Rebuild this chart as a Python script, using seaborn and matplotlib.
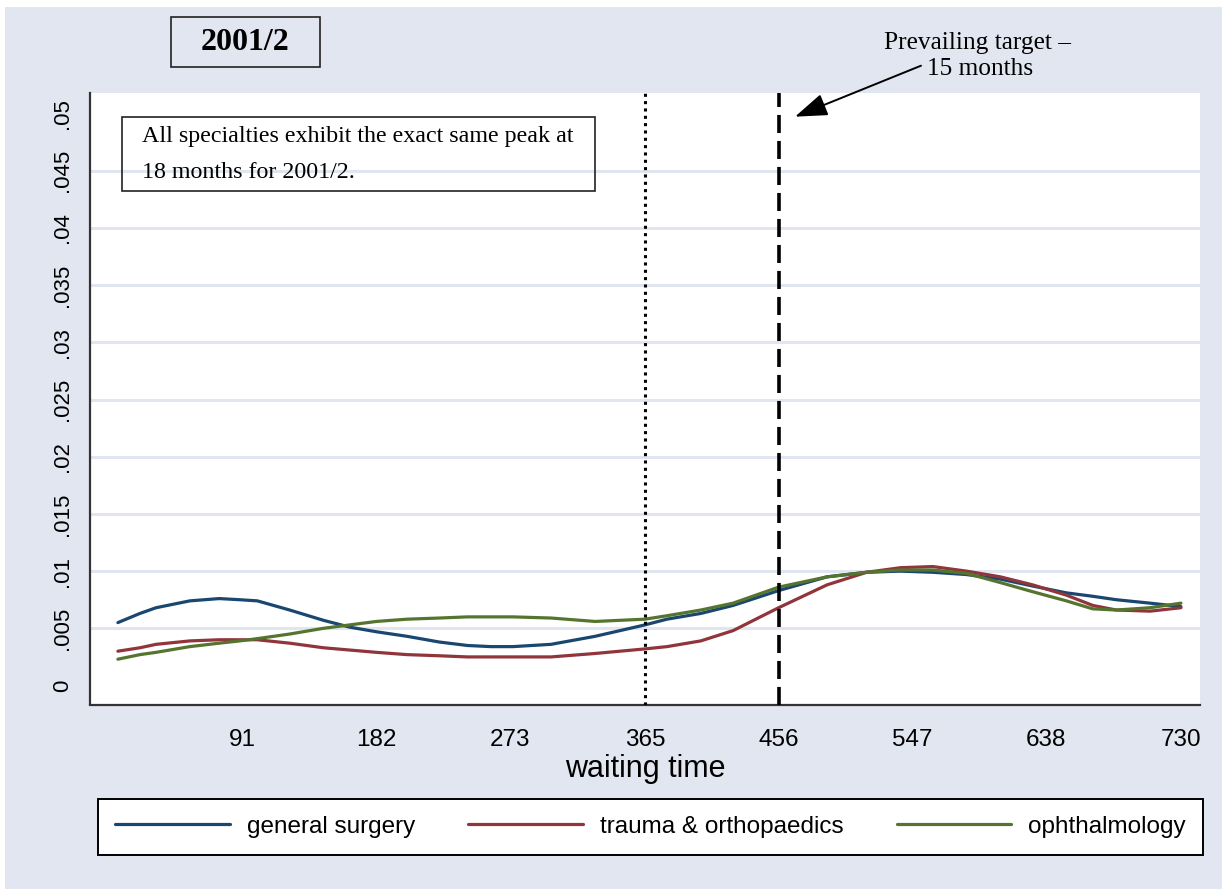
import numpy as np
import pandas as pd
import matplotlib
matplotlib.use("Agg")
import matplotlib.pyplot as plt
import matplotlib.patches as mpatches
import seaborn as sns

# ---------------- data ----------------
days = [6, 21, 32, 55, 75, 89, 101, 123, 146, 164, 182, 203, 225, 244, 260, 275,
        301, 331, 365, 380, 403, 425, 456, 489, 516, 539, 561, 584, 607, 629,
        652, 670, 686, 709, 730]
general_surgery = [.0055, .0063, .0068, .0074, .0076, .0075, .0074, .0066, .0057, .0051,
                   .0047, .0043, .0038, .0035, .0034, .0034, .0036, .0043, .0053, .0058,
                   .0063, .0070, .0083, .0095, .0099, .0100, .0099, .0097, .0093, .0087,
                   .0081, .0078, .0075, .0072, .0069]
trauma_orthopaedics = [.0030, .0033, .0036, .0039, .0040, .0040, .0040, .0037, .0033, .0031,
                       .0029, .0027, .0026, .0025, .0025, .0025, .0025, .0028, .0032, .0034,
                       .0039, .0048, .0068, .0088, .0099, .0103, .0104, .0100, .0095, .0088,
                       .0079, .0070, .0066, .0065, .0068]
ophthalmology = [.0023, .0027, .0029, .0034, .0037, .0039, .0041, .0045, .0050, .0053,
                 .0056, .0058, .0059, .0060, .0060, .0060, .0059, .0056, .0058, .0061,
                 .0066, .0072, .0086, .0095, .0099, .0101, .0101, .0098, .0090, .0082,
                 .0074, .0067, .0066, .0068, .0072]
series_names = ["general surgery", "trauma & orthopaedics", "ophthalmology"]
series_colors = ["#1A476F", "#90353B", "#55752F"]
x_ticks = [91, 182, 273, 365, 456, 547, 638, 730]
y_ticks = [0, .005, .01, .015, .02, .025, .03, .035, .04, .045, .05]
y_tick_labels = ["0", ".005", ".01", ".015", ".02", ".025", ".03", ".035", ".04", ".045", ".05"]
ref_lines = [365, 456]
title_text = "2001/2"
note_text = ["All specialties exhibit the exact same peak at", "18 months for 2001/2."]
target_text = ["Prevailing target \u2013", "15 months"]

df = pd.DataFrame({
    "waiting time": days * 3,
    "density": general_surgery + trauma_orthopaedics + ophthalmology,
    "specialty": [series_names[0]] * len(days) + [series_names[1]] * len(days)
                 + [series_names[2]] * len(days),
})

# ---------------- style ----------------
sns.set_style("white")
plt.rcParams["font.family"] = ["Liberation Sans", "DejaVu Sans"]
plt.rcParams["text.color"] = "black"
plt.rcParams["axes.labelcolor"] = "black"
plt.rcParams["xtick.color"] = "black"
plt.rcParams["ytick.color"] = "black"
BG = "#E2E6F0"
W, H = 1229, 896

fig = plt.figure(figsize=(W / 100, H / 100), dpi=100, facecolor="white")
fig.add_artist(mpatches.Rectangle((5 / W, 1 - 889 / H), 1217 / W, 882 / H,
                                  transform=fig.transFigure, facecolor=BG,
                                  edgecolor="none", zorder=-10))


def fx(px):
    return px / W


def fy(py):
    return 1 - py / H


ax = fig.add_axes([fx(90), fy(704.5), fx(1200) - fx(90), fy(93) - fy(704.5)])
ax.set_facecolor("white")

sns.lineplot(data=df, x="waiting time", y="density", hue="specialty",
             palette=dict(zip(series_names, series_colors)), hue_order=series_names,
             linewidth=2.3, ax=ax, legend=False, sort=False)
handles = list(ax.get_lines())[:3]

ax.set_xlim(-13, 743)
ax.set_ylim(-0.00166, 0.0518)

ax.set_xticks(x_ticks)
ax.set_xticklabels([str(t) for t in x_ticks], fontsize=17.5, color="black")
ax.set_yticks(y_ticks)
ax.set_yticklabels(y_tick_labels, fontsize=16, rotation=90, va="center", color="black")

ax.tick_params(axis="x", direction="out", length=9, width=1.2, color="#222222", pad=9)
ax.tick_params(axis="y", direction="out", length=9, width=1.2, color="#222222", pad=3)

for s in ["top", "right"]:
    ax.spines[s].set_visible(False)
for s in ["left", "bottom"]:
    ax.spines[s].set_color("#333333")
    ax.spines[s].set_linewidth(1.6)

ax.yaxis.grid(True, color="#E0E5EF", linewidth=2.2)
ax.xaxis.grid(False)
for gl, v in zip(ax.get_ygridlines(), y_ticks):
    if v in (0, .05):
        gl.set_visible(False)
ax.set_axisbelow(True)

ax.set_xlabel("waiting time", fontsize=22, labelpad=2, color="black")
ax.set_ylabel("")

# reference lines
ax.axvline(ref_lines[0], color="black", linewidth=2.2, linestyle=(0, (1, 1.4)), zorder=3)
ax.axvline(ref_lines[1], color="black", linewidth=2.6, linestyle=(0, (5.0, 2.2)), zorder=3)

# title box
fig.add_artist(mpatches.Rectangle((fx(171), fy(66.7)), fx(320) - fx(171), fy(16.7) - fy(66.7),
                                  transform=fig.transFigure, fill=False,
                                  edgecolor="#222222", linewidth=1.2))
fig.text(fx(245.5), fy(43), title_text, ha="center", va="center",
         fontsize=23, fontweight="bold", family="Liberation Serif", color="black")

# note box
fig.add_artist(mpatches.Rectangle((fx(121.7), fy(190.7)), fx(595) - fx(121.7), fy(116.7) - fy(190.7),
                                  transform=fig.transFigure, fill=False,
                                  edgecolor="#222222", linewidth=1.2, zorder=5))
fig.text(fx(141.7), fy(141.7), note_text[0], ha="left", va="baseline",
         fontsize=17.3, family="Liberation Serif", color="black")
fig.text(fx(141.7), fy(178.3), note_text[1], ha="left", va="baseline",
         fontsize=17.3, family="Liberation Serif", color="black")

# target annotation
fig.text(fx(978), fy(43), target_text[0], ha="center", va="center",
         fontsize=18.3, family="Liberation Serif", color="black")
fig.text(fx(980), fy(69), target_text[1], ha="center", va="center",
         fontsize=18.3, family="Liberation Serif", color="black")
ax.annotate("", xy=(fx(795), fy(116.7)), xycoords="figure fraction",
            xytext=(fx(921), fy(65.7)), textcoords="figure fraction",
            arrowprops=dict(arrowstyle="-|>,head_length=1.0,head_width=0.35",
                            color="black", linewidth=1.4, mutation_scale=20,
                            shrinkA=0, shrinkB=0),
            annotation_clip=False)

# legend
leg = fig.legend(handles, series_names, loc="center", ncol=3,
                 bbox_to_anchor=(fx(650.5), fy(827)), bbox_transform=fig.transFigure,
                 fontsize=17.5, frameon=True, fancybox=False, framealpha=1,
                 edgecolor="black", facecolor="white", handlelength=4.7,
                 handletextpad=0.7, columnspacing=2.2, borderpad=0.7)
leg.get_frame().set_linewidth(1.4)
for lh in leg.get_lines():
    lh.set_linewidth(2.3)
for t in leg.get_texts():
    t.set_color("black")

fig.savefig("out.png", dpi=100, facecolor=fig.get_facecolor())
